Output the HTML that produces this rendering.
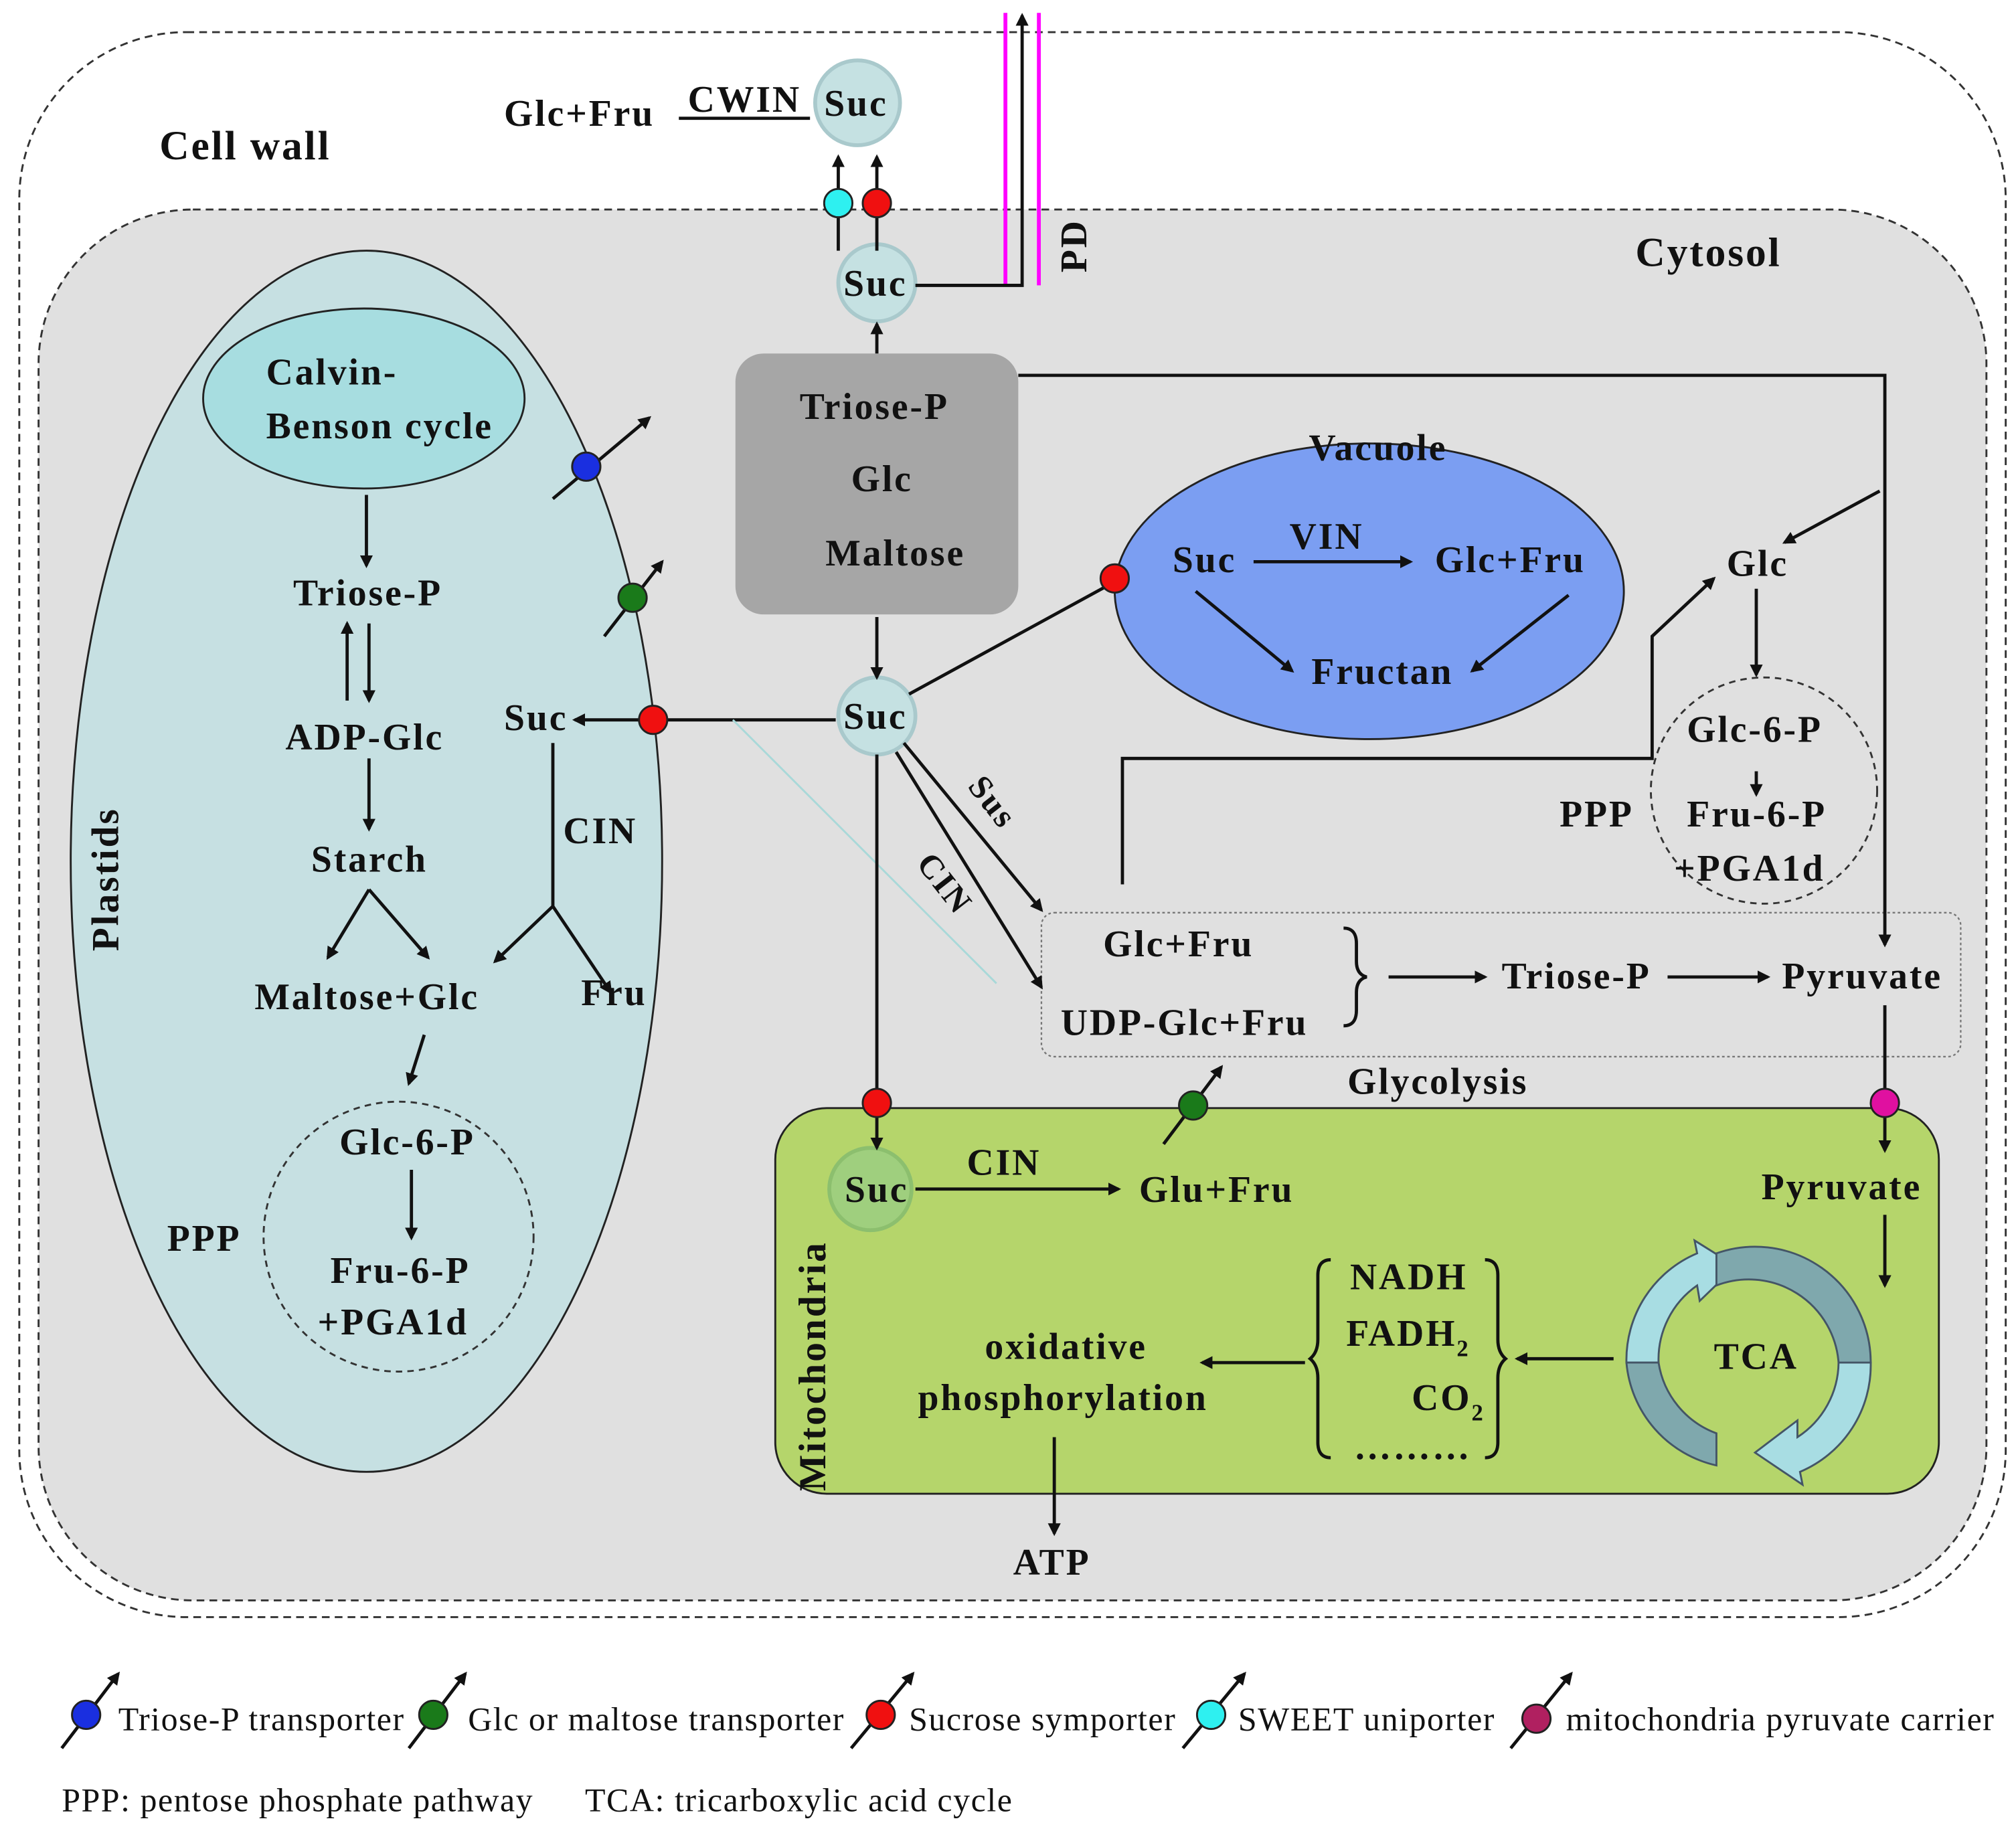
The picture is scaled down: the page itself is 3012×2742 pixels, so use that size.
<!DOCTYPE html>
<html><head><meta charset="utf-8"><style>
html,body{margin:0;padding:0;background:#fff;}
svg{display:block;}
text{font-family:"Liberation Serif",serif;font-weight:bold;fill:#111;letter-spacing:1.5px;}
.l{font-weight:normal;letter-spacing:0.8px;}
</style></head><body>
<svg width="3012" height="2742" viewBox="0 0 1568 1427.5" preserveAspectRatio="none" xmlns="http://www.w3.org/2000/svg">
<defs>
<marker id="a" markerWidth="10" markerHeight="10" refX="8" refY="5" orient="auto" markerUnits="userSpaceOnUse"><path d="M0,0 L10,5 L0,10 z" fill="#111"/></marker>
</defs>
<rect width="1568" height="1428" fill="#fff"/>
<rect x="15" y="25" width="1545" height="1233" rx="130" fill="none" stroke="#333" stroke-width="1.5" stroke-dasharray="6,4"/>
<rect x="30" y="163" width="1515" height="1082" rx="120" fill="#e0e0e0" stroke="#333" stroke-width="1.5" stroke-dasharray="6,4"/>
<g font-size="29">
<text x="124" y="124" font-size="32">Cell wall</text>
<text x="1272" y="207" font-size="32">Cytosol</text>
<ellipse cx="285" cy="670" rx="230" ry="475" fill="#c6e0e2" stroke="#222" stroke-width="1.5"/>
<ellipse cx="283" cy="310" rx="125" ry="70" fill="#a7dde0" stroke="#222" stroke-width="1.5"/>
<text x="207" y="299">Calvin-</text>
<text x="207" y="341">Benson cycle</text>
<text transform="translate(92,740) rotate(-90)" font-size="30">Plastids</text>
<text x="228" y="471">Triose-P</text>
<text x="222" y="583">ADP-Glc</text>
<text x="242" y="678">Starch</text>
<text x="198" y="785">Maltose+Glc</text>
<text x="392" y="568">Suc</text>
<text x="438" y="656">CIN</text>
<text x="452" y="782">Fru</text>
<circle cx="310" cy="962" r="105" fill="none" stroke="#333" stroke-width="1.5" stroke-dasharray="5,4"/>
<text x="264" y="898">Glc-6-P</text>
<text x="257" y="998">Fru-6-P</text>
<text x="247" y="1038">+PGA1d</text>
<text x="130" y="973">PPP</text>
<g stroke="#111" stroke-width="2.5" fill="none" marker-end="url(#a)">
<line x1="285" y1="385" x2="285" y2="440"/>
<line x1="270" y1="545" x2="270" y2="485"/>
<line x1="287" y1="485" x2="287" y2="545"/>
<line x1="287" y1="590" x2="287" y2="645"/>
<line x1="287" y1="692" x2="255" y2="745"/>
<line x1="287" y1="692" x2="333" y2="745"/>
<line x1="330" y1="805" x2="318" y2="843"/>
<line x1="320" y1="910" x2="320" y2="963"/>
<line x1="430" y1="705" x2="385" y2="748"/>
<line x1="430" y1="705" x2="475" y2="772"/>
<line x1="650" y1="560" x2="447" y2="560"/>
</g>
<line x1="430" y1="578" x2="430" y2="705" stroke="#111" stroke-width="2.5"/>
<line x1="570" y1="560" x2="775" y2="765" stroke="#a8d8d8" stroke-width="1.5"/>
<rect x="572" y="275" width="220" height="203" rx="22" fill="#a6a6a6"/>
<text x="622" y="326">Triose-P</text>
<text x="662" y="382">Glc</text>
<text x="642" y="440">Maltose</text>
<ellipse cx="1065" cy="460" rx="198" ry="115" fill="#7b9ef2" stroke="#222" stroke-width="1.5"/>
<text x="1018" y="358">Vacuole</text>
<text x="912" y="445">Suc</text>
<text x="1003" y="427">VIN</text>
<text x="1116" y="445">Glc+Fru</text>
<text x="1020" y="532">Fructan</text>
<rect x="603" y="862" width="905" height="300" rx="40" fill="#b5d56b" stroke="#222" stroke-width="1.5"/>
<text transform="translate(642,1160) rotate(-90)" font-size="30">Mitochondria</text>
<rect x="810" y="710" width="715" height="112" rx="10" fill="none" stroke="#777" stroke-width="1.2" stroke-dasharray="2,2"/>
<text x="858" y="744">Glc+Fru</text>
<text x="825" y="805">UDP-Glc+Fru</text>
<path d="M1045,722 q10,0 10,12 v14 q0,10 8,12 q-8,2 -8,12 v14 q0,12 -10,12" fill="none" stroke="#111" stroke-width="2.5"/>
<text x="1168" y="769">Triose-P</text>
<text x="1386" y="769">Pyruvate</text>
<text x="1048" y="851">Glycolysis</text>
<circle cx="1372" cy="615" r="88" fill="none" stroke="#333" stroke-width="1.5" stroke-dasharray="5,4"/>
<text x="1343" y="448">Glc</text>
<text x="1312" y="577">Glc-6-P</text>
<text x="1312" y="643">Fru-6-P</text>
<text x="1302" y="685">+PGA1d</text>
<text x="1213" y="643">PPP</text>
<circle cx="667" cy="80" r="33" fill="#c5e1e2" stroke="#a9c9cc" stroke-width="3"/>
<text x="641" y="90">Suc</text>
<circle cx="682" cy="220" r="30" fill="#c5e1e2" stroke="#a9c9cc" stroke-width="3"/>
<text x="656" y="230">Suc</text>
<circle cx="682" cy="557" r="30" fill="#c5e1e2" stroke="#a9c9cc" stroke-width="3"/>
<text x="656" y="567">Suc</text>
<circle cx="677" cy="925" r="32" fill="#9fcf7e" stroke="#8cbf6e" stroke-width="3"/>
<text x="657" y="935">Suc</text>
<text x="392" y="98">Glc+Fru</text>
<text x="535" y="87">CWIN</text>
<line x1="528" y1="92" x2="630" y2="92" stroke="#111" stroke-width="2.5"/>
<line x1="782" y1="10" x2="782" y2="222" stroke="#f0f" stroke-width="3"/>
<line x1="808" y1="10" x2="808" y2="222" stroke="#f0f" stroke-width="3"/>
<text transform="translate(845,212) rotate(-90)">PD</text>
<g stroke="#111" stroke-width="2.5" fill="none" marker-end="url(#a)">
<polyline points="712,222 795,222 795,12"/>
<line x1="652" y1="195" x2="652" y2="122"/>
<line x1="682" y1="195" x2="682" y2="122"/>
<line x1="682" y1="275" x2="682" y2="252"/>
<line x1="682" y1="480" x2="682" y2="527"/>
<line x1="707" y1="540" x2="868" y2="452"/>
<line x1="703" y1="578" x2="810" y2="708"/>
<line x1="697" y1="585" x2="810" y2="768"/>
<line x1="682" y1="587" x2="682" y2="893"/>
<polyline points="792,292 1466,292 1466,735"/>
<line x1="1462" y1="382" x2="1388" y2="422"/>
<line x1="1366" y1="458" x2="1366" y2="525"/>
<line x1="1366" y1="600" x2="1366" y2="618"/>
<polyline points="873,688 873,590 1285,590 1285,495 1333,450"/>
<line x1="1080" y1="760" x2="1155" y2="760"/>
<line x1="1297" y1="760" x2="1375" y2="760"/>
<line x1="1466" y1="782" x2="1466" y2="895"/>
<line x1="712" y1="925" x2="870" y2="925"/>
<line x1="1466" y1="945" x2="1466" y2="1000"/>
<line x1="1255" y1="1057" x2="1180" y2="1057"/>
<line x1="1015" y1="1060" x2="935" y2="1060"/>
<line x1="820" y1="1118" x2="820" y2="1193"/>
<line x1="975" y1="437" x2="1097" y2="437"/>
<line x1="930" y1="460" x2="1005" y2="522"/>
<line x1="1220" y1="463" x2="1145" y2="522"/>
<line x1="430" y1="388" x2="505" y2="325"/>
<line x1="470" y1="495" x2="515" y2="437"/>
<line x1="905" y1="890" x2="950" y2="830"/>
</g>
<text transform="translate(752,612) rotate(52)" font-size="26">Sus</text>
<text transform="translate(712,672) rotate(52)" font-size="26">CIN</text>
<text x="752" y="914">CIN</text>
<text x="886" y="935">Glu+Fru</text>
<text x="1370" y="933">Pyruvate</text>
<text x="1050" y="1003">NADH</text>
<text x="1047" y="1047">FADH<tspan font-size="18" dy="8">2</tspan></text>
<text x="1098" y="1097">CO<tspan font-size="18" dy="8">2</tspan></text>
<text x="1053" y="1135">………</text>
<path d="M1035,980 q-10,0 -10,12 v50 q0,10 -6,15 q6,5 6,15 v50 q0,12 10,12" fill="none" stroke="#111" stroke-width="2.5"/>
<path d="M1155,980 q10,0 10,12 v50 q0,10 6,15 q-6,5 -6,15 v50 q0,12 -10,12" fill="none" stroke="#111" stroke-width="2.5"/>
<text x="766" y="1057">oxidative</text>
<text x="714" y="1097">phosphorylation</text>
<text x="788" y="1225">ATP</text>
<path d="M1265,1060 A90,90 0 0 1 1320,975 L1318,965 L1350,985 L1322,1012 L1320,1000 A70,70 0 0 0 1290,1060 Z" fill="#a8dde3" stroke="#456" stroke-width="1.5"/>
<path d="M1265,1060 A90,90 0 0 0 1335,1140 L1335,1115 A70,70 0 0 1 1290,1060 Z" fill="#7fa8ad" stroke="#456" stroke-width="1.5"/>
<path d="M1455,1060 A90,90 0 0 1 1400,1145 L1402,1155 L1365,1130 L1398,1105 L1398,1118 A70,70 0 0 0 1430,1060 Z" fill="#a8dde3" stroke="#456" stroke-width="1.5"/>
<path d="M1455,1060 A90,90 0 0 0 1335,975 L1335,1000 A70,70 0 0 1 1430,1060 Z" fill="#7fa8ad" stroke="#456" stroke-width="1.5"/>
<text x="1333" y="1065">TCA</text>
</g>
<g stroke="#222" stroke-width="1.5">
<circle cx="456" cy="363" r="11" fill="#1a2fe0"/>
<circle cx="492" cy="465" r="11" fill="#1a7a1a"/>
<circle cx="508" cy="560" r="11" fill="#f01010"/>
<circle cx="652" cy="158" r="11" fill="#2ef0f0"/>
<circle cx="682" cy="158" r="11" fill="#f01010"/>
<circle cx="867" cy="450" r="11" fill="#f01010"/>
<circle cx="928" cy="860" r="11" fill="#1a7a1a"/>
<circle cx="682" cy="858" r="11" fill="#f01010"/>
<circle cx="1466" cy="858" r="11" fill="#e010a0"/>
</g>
<g stroke="#111" stroke-width="2.5" fill="none" marker-end="url(#a)">
<line x1="48" y1="1360" x2="92" y2="1302"/>
<line x1="318" y1="1360" x2="362" y2="1302"/>
<line x1="662" y1="1360" x2="710" y2="1302"/>
<line x1="920" y1="1360" x2="968" y2="1302"/>
<line x1="1175" y1="1360" x2="1222" y2="1302"/>
</g>
<g stroke="#222" stroke-width="1.5">
<circle cx="67" cy="1334" r="11" fill="#1a2fe0"/>
<circle cx="337" cy="1334" r="11" fill="#1a7a1a"/>
<circle cx="685" cy="1334" r="11" fill="#f01010"/>
<circle cx="942" cy="1334" r="11" fill="#2ef0f0"/>
<circle cx="1195" cy="1337" r="11" fill="#b02060"/>
</g>
<g font-size="26">
<text class="l" x="92" y="1346">Triose-P transporter</text>
<text class="l" x="364" y="1346">Glc or maltose transporter</text>
<text class="l" x="707" y="1346">Sucrose symporter</text>
<text class="l" x="963" y="1346">SWEET uniporter</text>
<text class="l" x="1218" y="1346">mitochondria pyruvate carrier</text>
<text class="l" x="48" y="1409">PPP: pentose phosphate pathway</text>
<text class="l" x="455" y="1409">TCA: tricarboxylic acid cycle</text>
</g>
</svg>
</body></html>
